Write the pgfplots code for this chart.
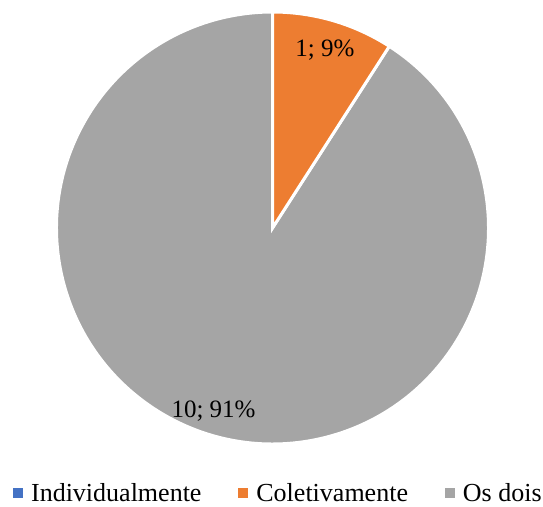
\documentclass[border=0pt]{standalone}
\usepackage{fontspec}
\setmainfont{Liberation Serif}
\usepackage{pgfplots}
\usepackage{pgfplotstable}
\pgfplotsset{compat=1.18}

\definecolor{offblue}{HTML}{4472C4}
\definecolor{offorange}{HTML}{ED7D31}
\definecolor{offgray}{HTML}{A5A5A5}

% answers per category
\pgfplotstableread{
name count
Individualmente 0
Coletivamente 1
{Os dois} 10
}\answers

\begin{document}
\begin{tikzpicture}
\pgfplotstablegetelem{0}{count}\of\answers \edef\nA{\pgfplotsretval}
\pgfplotstablegetelem{1}{count}\of\answers \edef\nB{\pgfplotsretval}
\pgfplotstablegetelem{2}{count}\of\answers \edef\nC{\pgfplotsretval}
\pgfmathsetmacro{\total}{\nA+\nB+\nC}
% slices run clockwise from the top
\pgfmathsetmacro{\aA}{90-360*\nA/\total}
\pgfmathsetmacro{\aB}{\aA-360*\nB/\total}
\pgfmathsetmacro{\aC}{\aB-360*\nC/\total}
\pgfmathsetmacro{\mB}{(\aA+\aB)/2}
\pgfmathsetmacro{\mC}{(\aB+\aC)/2}
\pgfmathtruncatemacro{\pB}{round(100*\nB/\total)}
\pgfmathtruncatemacro{\pC}{round(100*\nC/\total)}
\def\cx{272.5}
\def\cy{278}
\def\R{216}
\begin{axis}[
  scale only axis, width=543pt, height=506pt,
  xmin=0, xmax=543, ymin=0, ymax=506,
  hide axis, clip=false,
  legend columns=3,
  legend image code/.code={\fill[#1] (0pt,-3.5pt) rectangle (8.5pt,5pt);},
  legend style={draw=none, fill=none, inner sep=0pt,
    at={(axis cs:13,2.5)}, anchor=south west,
    nodes={inner sep=0pt},
    font=\fontsize{26}{29}\selectfont,
    /tikz/every odd column/.append style={column sep=9pt},
    /tikz/every even column/.append style={column sep=37pt}},
]
\addlegendimage{offblue}\addlegendentry{Individualmente}
\addlegendimage{offorange}\addlegendentry{Coletivamente}
\addlegendimage{offgray}\addlegendentry{Os dois}

\filldraw[fill=offgray, draw=white, line width=3pt]
  (axis cs:\cx,\cy) -- ++(\aB:\R pt) arc[start angle=\aB, end angle=\aC, radius=\R pt] -- cycle;
\filldraw[fill=offorange, draw=white, line width=3pt]
  (axis cs:\cx,\cy) -- ++(\aA:\R pt) arc[start angle=\aA, end angle=\aB, radius=\R pt] -- cycle;

\node[font=\fontsize{25}{28}\selectfont] at (axis cs:{\cx+0.86*\R*cos(\mB)},{\cy+0.86*\R*sin(\mB)}) {\nB; \pB\%};
\node[font=\fontsize{25}{28}\selectfont] at (axis cs:{\cx+0.89*\R*cos(\mC-1.5)},{\cy+0.89*\R*sin(\mC-1.5)}) {\nC; \pC\%};
\end{axis}
\pgfresetboundingbox
\path[use as bounding box] (0,0) rectangle (543pt,506pt);
\end{tikzpicture}
\end{document}
